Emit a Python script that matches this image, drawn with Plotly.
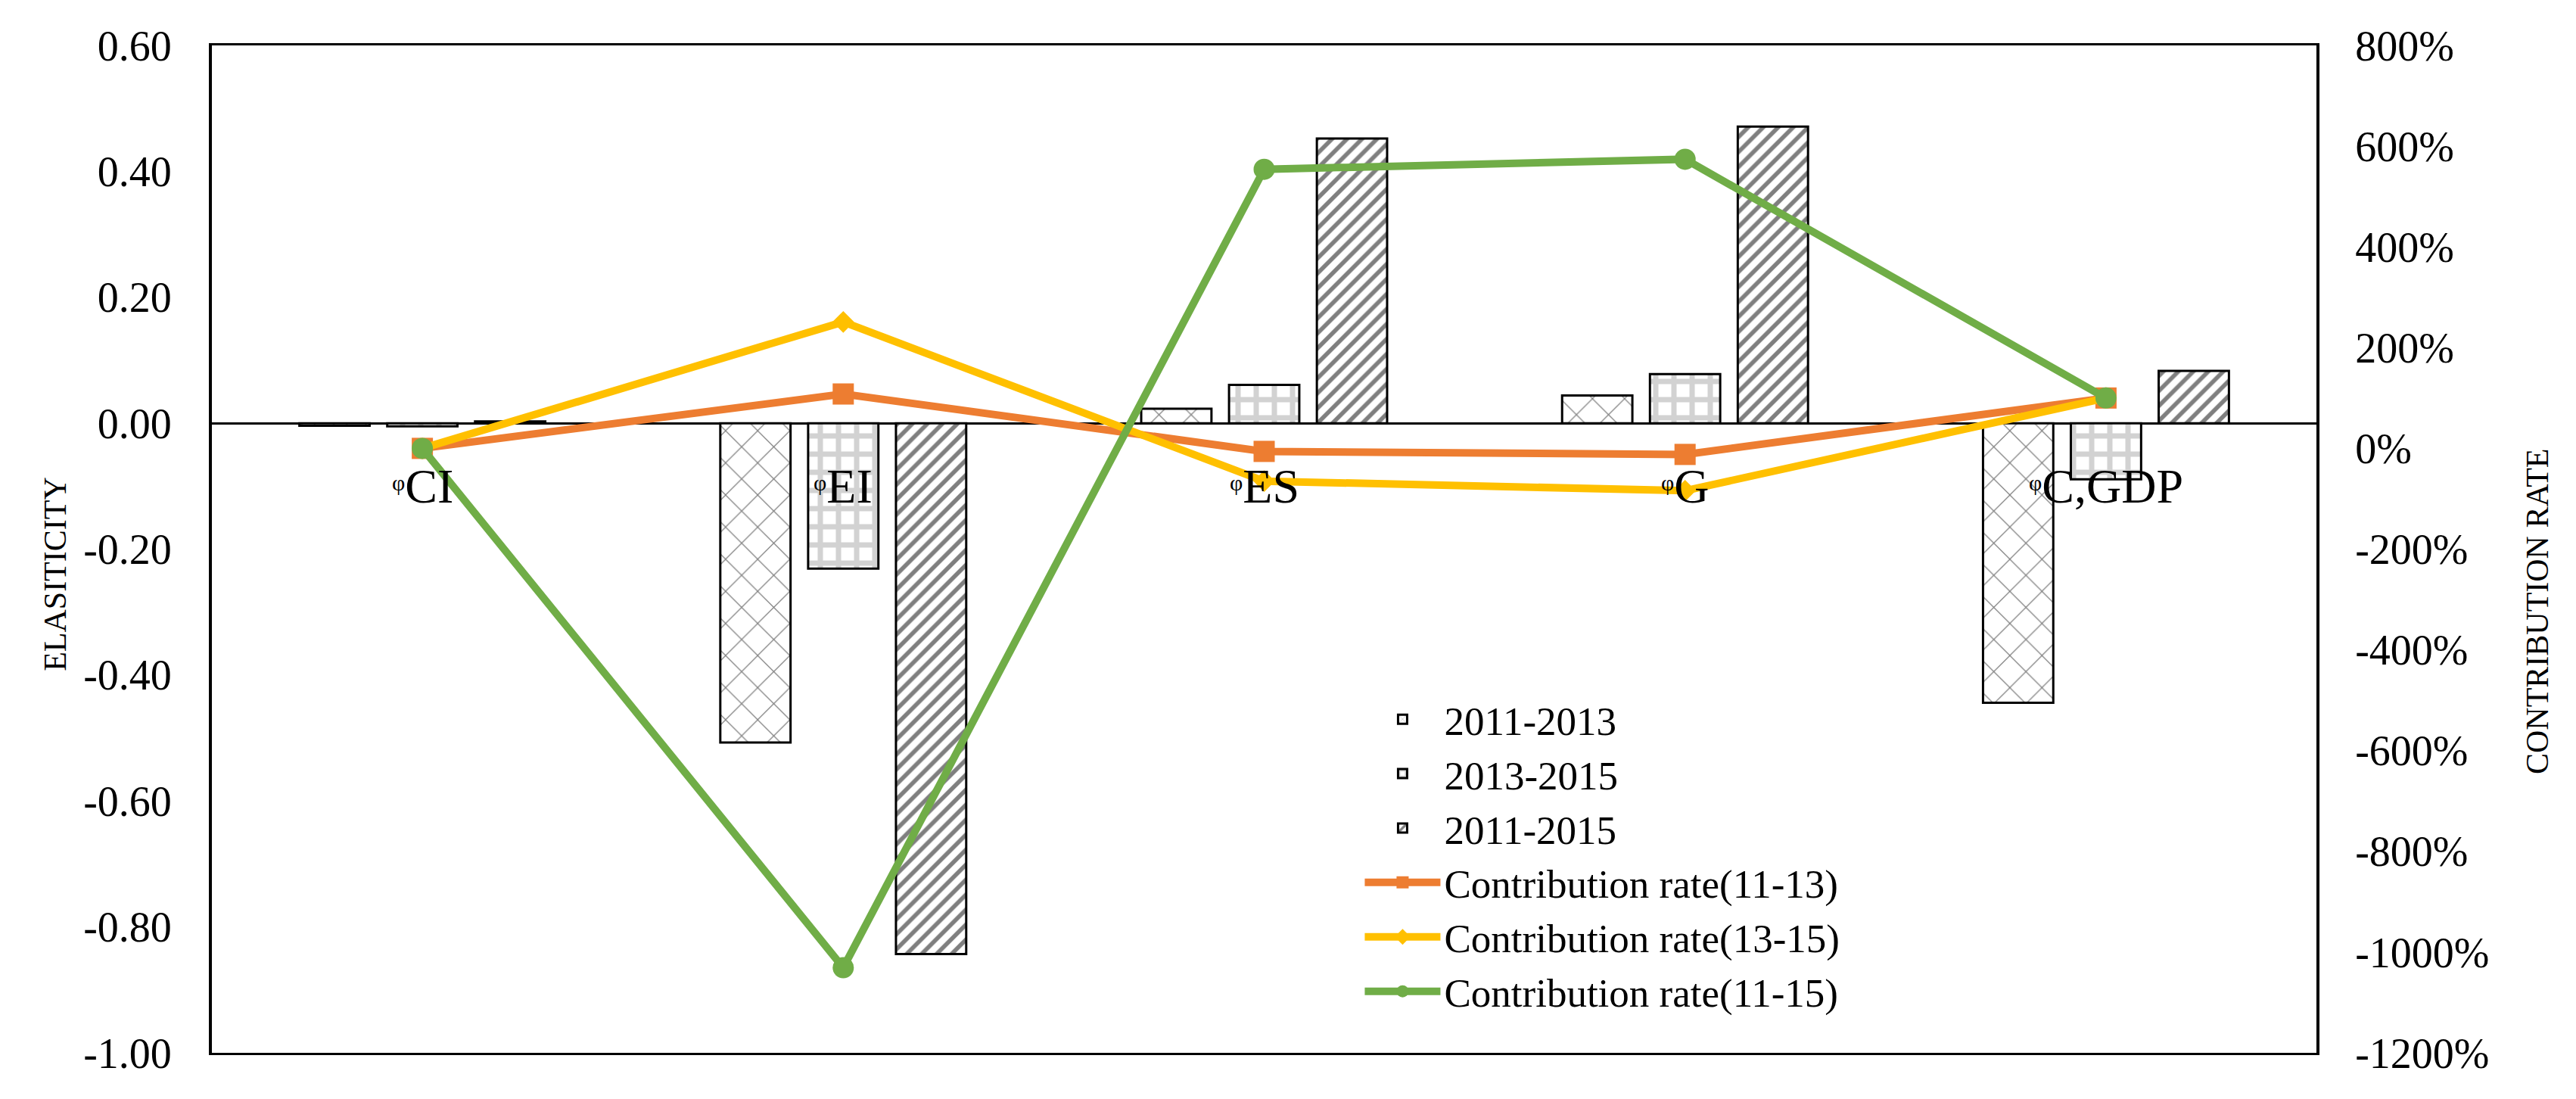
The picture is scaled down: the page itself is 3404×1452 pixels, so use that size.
import plotly.graph_objects as go

categories = ["φCI", "φEI", "φES", "φG", "φC,GDP"]

elasticity_2011_2013 = [-0.004, -0.507, 0.023, 0.044, -0.444]
elasticity_2013_2015 = [-0.005, -0.231, 0.061, 0.078, -0.089]
elasticity_2011_2015 = [0.003, -0.843, 0.452, 0.471, 0.083]

contrib_11_13 = [0, 108, -6, -12, 100]
contrib_13_15 = [0, 251, -65, -84, 100]
contrib_11_15 = [0, -1031, 554, 574, 100]

left_tickvals = [0.6, 0.4, 0.2, 0.0, -0.2, -0.4, -0.6, -0.8, -1.0]
left_ticktext = ["0.60", "0.40", "0.20", "0.00", "-0.20", "-0.40", "-0.60", "-0.80", "-1.00"]
right_tickvals = [800, 600, 400, 200, 0, -200, -400, -600, -800, -1000, -1200]
right_ticktext = ["800%", "600%", "400%", "200%", "0%", "-200%", "-400%", "-600%", "-800%", "-1000%", "-1200%"]

FONT = "Liberation Serif, Times New Roman, serif"

fig = go.Figure()

bar_specs = [
    ("2011-2013", elasticity_2011_2013, dict(shape="x", size=30, solidity=0.08, fgcolor="black", bgcolor="white")),
    ("2013-2015", elasticity_2013_2015, dict(shape="+", size=24, solidity=0.5, fgcolor="#a6a6a6", bgcolor="white")),
    ("2011-2015", elasticity_2011_2015, dict(shape="/", size=14, solidity=0.4, fgcolor="black", bgcolor="white")),
]
for name, vals, pat in bar_specs:
    fig.add_trace(go.Bar(
        x=categories, y=vals, name=name,
        marker=dict(color="white", line=dict(color="black", width=3), pattern=pat),
        yaxis="y",
    ))

line_specs = [
    ("Contribution rate(11-13)", contrib_11_13, "#ED7D31", "square", 28),
    ("Contribution rate(13-15)", contrib_13_15, "#FFC000", "diamond", 22),
    ("Contribution rate(11-15)", contrib_11_15, "#70AD47", "circle", 28),
]
for name, vals, color, sym, size in line_specs:
    fig.add_trace(go.Scatter(
        x=categories, y=vals, name=name, mode="lines+markers",
        line=dict(color=color, width=10),
        marker=dict(symbol=sym, size=size, color=color),
        yaxis="y2",
    ))

annotations = []
for c in categories:
    annotations.append(dict(
        x=c, y=0, xref="x", yref="y",
        text='<span style="font-size:30px;baseline-shift:16px">' + c[0] + '</span>' + c[1:],
        showarrow=False, yanchor="top", xanchor="center", yshift=-46,
        font=dict(family=FONT, size=64, color="black"),
    ))
annotations.append(dict(
    x=-0.0744, y=0.475, xref="paper", yref="paper", text="ELASITICITY",
    textangle=-90, showarrow=False, xanchor="center", yanchor="middle",
    font=dict(family=FONT, size=42, color="black"),
))
annotations.append(dict(
    x=1.105, y=0.438, xref="paper", yref="paper", text="CONTRIBUTION RATE",
    textangle=-90, showarrow=False, xanchor="center", yanchor="middle",
    font=dict(family=FONT, size=42, color="black"),
))

fig.update_layout(
    width=3404, height=1452,
    margin=dict(l=272, r=351, t=52, b=69),
    paper_bgcolor="white", plot_bgcolor="white",
    font=dict(family=FONT, size=56, color="black"),
    barmode="group", bargap=0.374, bargroupgap=0.2,
    showlegend=True,
    legend=dict(
        x=0.546, y=0.362, xanchor="left", yanchor="top",
        font=dict(family=FONT, size=53, color="black"),
        bgcolor="rgba(0,0,0,0)", itemwidth=100, tracegroupgap=0,
    ),
    xaxis=dict(
        showticklabels=False, showgrid=False, zeroline=False,
        showline=True, linecolor="black", linewidth=3, mirror=True, ticks="",
    ),
    yaxis=dict(
        range=[-1.0, 0.6], tickvals=left_tickvals, ticktext=left_ticktext,
        showgrid=False, zeroline=True, zerolinecolor="black", zerolinewidth=3,
        showline=True, linecolor="black", linewidth=4, ticks="",
        ticklabelstandoff=38,
        tickfont=dict(family=FONT, size=56, color="black"),
    ),
    yaxis2=dict(
        range=[-1200, 800], tickvals=right_tickvals, ticktext=right_ticktext,
        overlaying="y", side="right", showgrid=False, zeroline=False,
        showline=True, linecolor="black", linewidth=4, ticks="",
        ticklabelstandoff=36,
        tickfont=dict(family=FONT, size=56, color="black"),
    ),
    annotations=annotations,
)

fig.write_html("out.html")
